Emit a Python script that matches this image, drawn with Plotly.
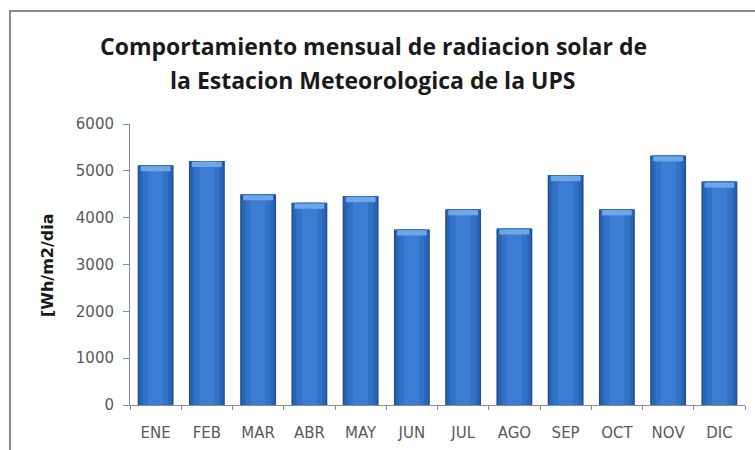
import plotly.graph_objects as go

# Monthly solar radiation, Wh/m2/day
meses = ["ENE", "FEB", "MAR", "ABR", "MAY", "JUN", "JUL", "AGO", "SEP", "OCT", "NOV", "DIC"]
radiacion = [5120, 5210, 4500, 4320, 4460, 3750, 4180, 3770, 4910, 4180, 5330, 4770]
y_ticks = [0, 1000, 2000, 3000, 4000, 5000, 6000]

titulo = ["Comportamiento mensual de radiacion solar de",
          "la Estacion Meteorologica de la UPS"]
eje_y = "[Wh/m2/dia"

# plot area in pixels
L, R, T, B = 130, 10, 124, 45
W, H = 755, 450
PW, PH = W - L - R, H - T - B


def px_x(x):
    return (x - L) / PW


def px_y(y):
    return 1 + (T - y) / PH


fig = go.Figure()

# layered bars give a rounded, shaded column look
capas = [
    (0.70, "#1f4f93"),
    (0.64, "#2a64b4"),
    (0.50, "#3171c6"),
    (0.30, "#3a7dd3"),
]
for ancho, color in capas:
    fig.add_trace(go.Bar(
        x=meses, y=radiacion, width=ancho,
        marker=dict(color=color, line=dict(width=0)),
        hoverinfo="skip", showlegend=False,
    ))

# light band along the top of each column
fig.add_trace(go.Bar(
    x=meses, y=[110] * len(radiacion), base=[v - 130 for v in radiacion], width=0.58,
    marker=dict(color="#6ea6e6", line=dict(width=0)),
    hoverinfo="skip", showlegend=False,
))

fig.update_layout(
    barmode="overlay",
    width=W, height=H,
    margin=dict(l=L, r=R, t=T, b=B),
    paper_bgcolor="white", plot_bgcolor="white",
    font=dict(family="DejaVu Sans", color="#595959"),
    xaxis=dict(
        type="category", showgrid=False, automargin=False,
        showline=True, linecolor="#8c8c8c", linewidth=1,
        ticks="outside", tickson="boundaries", ticklen=4, tickcolor="#8c8c8c",
        tickfont=dict(size=15, color="#595959"),
        ticklabelstandoff=14,
        range=[-0.5, 11.5],
    ),
    yaxis=dict(
        range=[0, 6000], tickvals=y_ticks, showgrid=False, zeroline=False,
        automargin=False,
        showline=True, linecolor="#8c8c8c", linewidth=1,
        ticks="outside", ticklen=6, tickcolor="#8c8c8c",
        tickfont=dict(size=15, color="#595959"),
        ticklabelstandoff=6,
    ),
)

# two-line chart title
for linea, yc in zip(titulo, [46, 80]):
    fig.add_annotation(
        text=linea, xref="paper", yref="paper",
        x=px_x(373), y=px_y(yc), xanchor="center", yanchor="middle",
        showarrow=False,
        font=dict(family="Open Sans", size=23, color="#1a1a1a", weight="bold"),
    )

# y-axis title
fig.add_annotation(
    text=eje_y, xref="paper", yref="paper",
    x=px_x(47), y=px_y(265), xanchor="center", yanchor="middle",
    textangle=-90, showarrow=False,
    font=dict(family="DejaVu Sans", size=16, color="#1a1a1a", weight="bold"),
)

# outer chart frame (top and left edges visible)
fig.add_shape(type="line", xref="paper", yref="paper",
              x0=px_x(9), x1=px_x(W), y0=px_y(11), y1=px_y(11),
              line=dict(color="#8a8a8a", width=2))
fig.add_shape(type="line", xref="paper", yref="paper",
              x0=px_x(10), x1=px_x(10), y0=px_y(11), y1=px_y(H),
              line=dict(color="#8a8a8a", width=2))

fig.write_html("out.html")
